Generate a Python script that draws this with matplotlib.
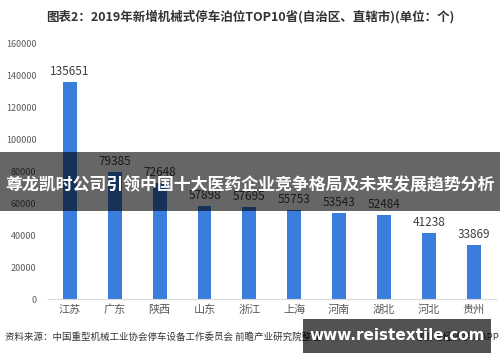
import matplotlib
matplotlib.use("Agg")
import matplotlib.pyplot as plt
from matplotlib.patches import Rectangle

plt.rcParams['font.family'] = ['Noto Sans CJK SC', 'DejaVu Sans']

provinces = ["江苏", "广东", "陕西", "山东", "浙江", "上海", "河南", "湖北", "河北", "贵州"]
berths = [135651, 79385, 72648, 57898, 57695, 55753, 53543, 52484, 41238, 33869]
y_ticks = [0, 20000, 40000, 60000, 80000, 100000, 120000, 140000, 160000]

title = "图表2：2019年新增机械式停车泊位TOP10省(自治区、直辖市)(单位：个)"
source = "资料来源：中国重型机械工业协会停车设备工作委员会 前瞻产业研究院整理"
credit = "@前瞻经济学人APP"
banner = "尊龙凯时公司引领中国十大医药企业竞争格局及未来发展趋势分析"
site = "www.reistextile.com"

fig = plt.figure(figsize=(5.0, 3.62), dpi=100)
ax = fig.add_axes([0.095, 0.174, 0.897, 0.707])

x = range(len(provinces))
ax.bar(x, berths, width=0.31, color='#3b7ddd', zorder=2)
for xi, v in zip(x, berths):
    ax.annotate(str(v), (xi, v), xytext=(0, 3), textcoords='offset points',
                ha='center', va='bottom', fontsize=8.5, color='#404040')

ax.set_xlim(-0.5, len(provinces) - 0.5)
ax.set_ylim(0, 160000)
ax.set_yticks(y_ticks)
ax.set_yticklabels([str(t) for t in y_ticks], fontsize=6.5, color='#595959')
ax.set_xticks(list(x))
ax.set_xticklabels(provinces, fontsize=8, color='#595959')
ax.tick_params(axis='both', length=0)
ax.tick_params(axis='y', pad=8)
ax.tick_params(axis='x', pad=4)
for s in ['top', 'right', 'left']:
    ax.spines[s].set_visible(False)
ax.spines['bottom'].set_color('#d9d9d9')
ax.spines['bottom'].set_linewidth(0.8)

fig.text(0.5, 0.953, title, ha='center', va='center', fontsize=9,
         fontweight='bold', color='#333333')
fig.text(0.01, 0.069, source, ha='left', va='center', fontsize=6.8, color='#333333')
fig.text(0.998, 0.069, credit, ha='right', va='center', fontsize=6.8, color='#333333')

# overlay banner across the middle
fig.patches.append(Rectangle((0, 1 - 211 / 362), 1, 59 / 362, transform=fig.transFigure,
                             facecolor='black', alpha=0.6, zorder=5))
fig.text(0.5, 1 - 185 / 362, banner, ha='center', va='center', fontsize=12.2,
         fontweight='bold', color='white', zorder=6)

# site box at the bottom right
fig.patches.append(Rectangle((303 / 500, 1 - 353 / 362), 188 / 500, 34 / 362,
                             transform=fig.transFigure, facecolor='black',
                             alpha=0.68, zorder=5))
fig.text(397 / 500, 1 - 336 / 362, site, ha='center', va='center', fontsize=11,
         fontweight='bold', color='white', family='DejaVu Sans', zorder=6)

fig.savefig("out.png", dpi=100)
plt.close(fig)
